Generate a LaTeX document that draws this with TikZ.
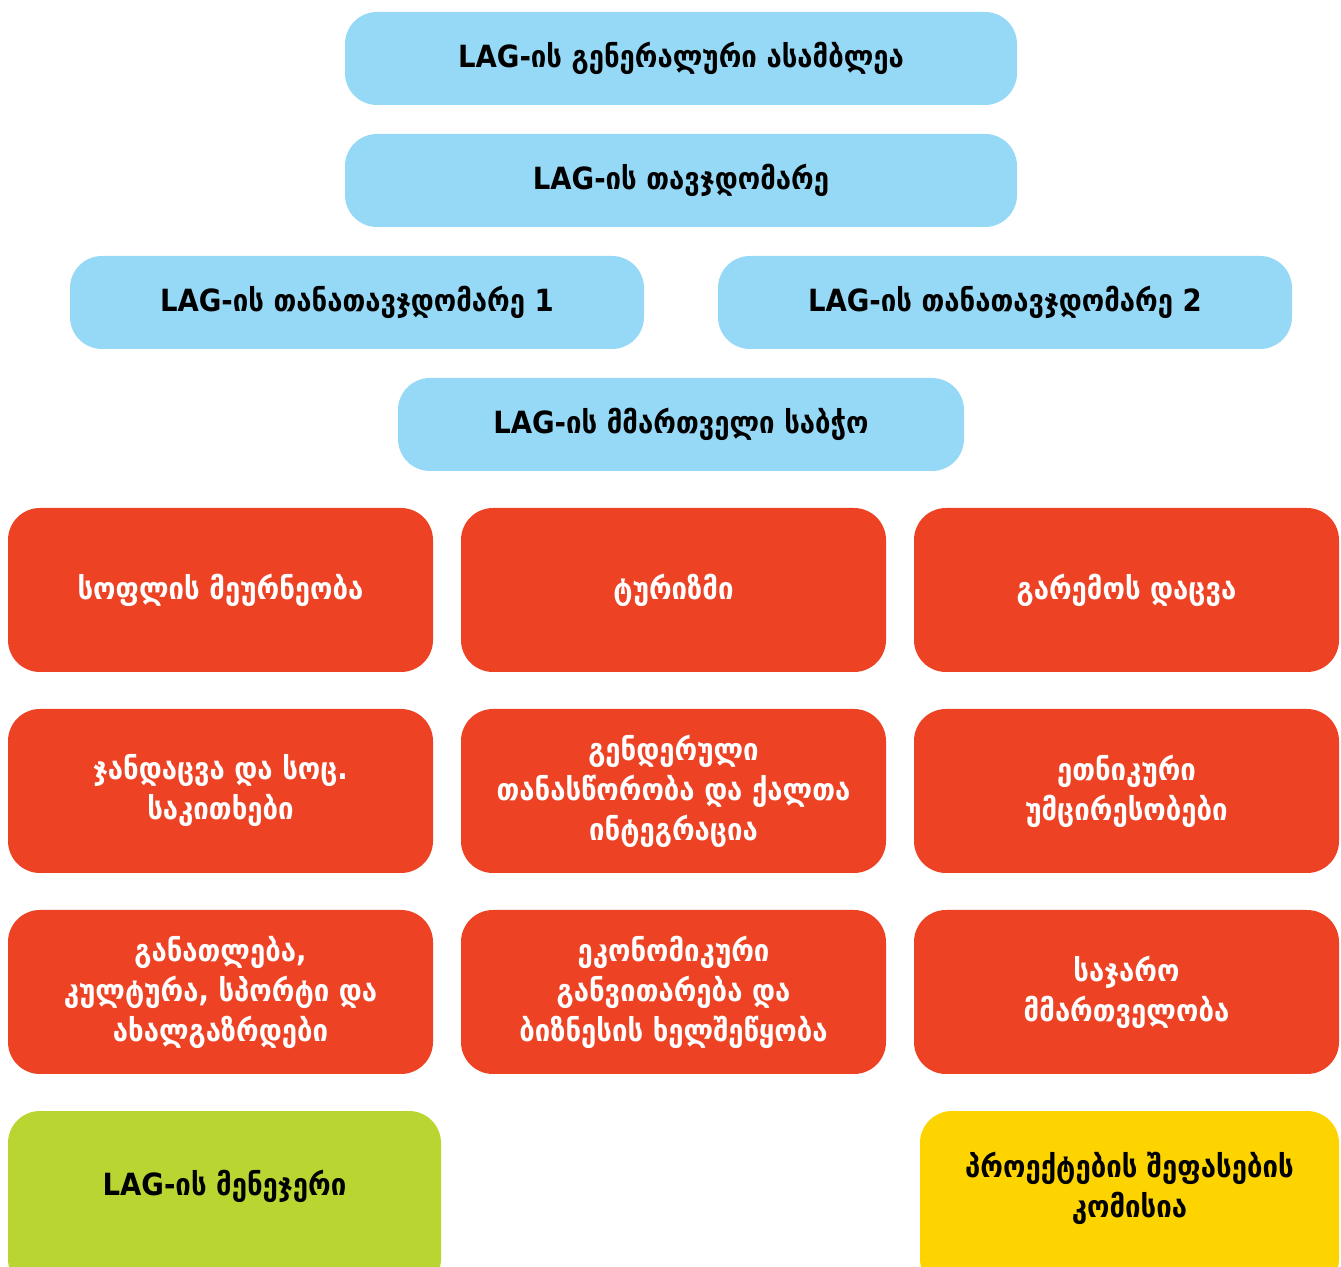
\documentclass[tikz,border=0pt]{standalone}
\usepackage{fontspec}
\setmainfont{DejaVu Sans Condensed}[BoldFont={DejaVu Sans Condensed Bold}]
\definecolor{lagblue}{HTML}{96D9F6}
\definecolor{lagred}{HTML}{EE4225}
\definecolor{laggreen}{HTML}{B9D531}
\definecolor{lagyellow}{HTML}{FDD400}

\begin{document}
\begin{tikzpicture}[x=0.5pt,y=-0.5pt,
	box/.style={rounded corners=16pt,inner sep=0pt,align=center,font=\bfseries\fontsize{15.3}{20}\selectfont},
	board/.style={box,fill=lagblue,text=black,minimum height=46.5pt},
	theme/.style={box,fill=lagred,text=white,minimum width=212.5pt,minimum height=82pt},
	staff/.style={box,minimum height=90pt},
	caption/.style={box,text=black}]
	\useasboundingbox (0,0) rectangle (1341,1267);
	\node[board,minimum width=336pt] (assembly) at (681,58.5) {LAG-ის გენერალური ასამბლეა};
	\node[board,minimum width=336pt] (chair) at (681,180.5) {LAG-ის თავჯდომარე};
	\node[board,minimum width=287pt] (cochair1) at (357,302.5) {LAG-ის თანათავჯდომარე 1};
	\node[board,minimum width=287pt] (cochair2) at (1005,302.5) {LAG-ის თანათავჯდომარე 2};
	\node[board,minimum width=283pt] (council) at (681,424.5) {LAG-ის მმართველი საბჭო};
	\node[theme] (agriculture) at (220.5,590) {სოფლის მეურნეობა};
	\node[theme] (tourism) at (673.5,590) {ტურიზმი};
	\node[theme] (environment) at (1126.5,590) {გარემოს დაცვა};
	\node[theme] (health) at (220.5,791) {ჯანდაცვა და სოც.\\საკითხები};
	\node[theme] (gender) at (673.5,791) {გენდერული\\თანასწორობა და ქალთა\\ინტეგრაცია};
	\node[theme] (minorities) at (1126.5,791) {ეთნიკური\\უმცირესობები};
	\node[theme] (education) at (220.5,992) {განათლება,\\კულტურა, სპორტი და\\ახალგაზრდები};
	\node[theme] (economy) at (673.5,992) {ეკონომიკური\\განვითარება და\\ბიზნესის ხელშეწყობა};
	\node[theme] (governance) at (1126.5,992) {საჯარო\\მმართველობა};
	\node[staff,fill=laggreen,minimum width=216.5pt] (manager) at (224.5,1201) {};
	\node[caption] (managerText) at (224.5,1186) {LAG-ის მენეჯერი};
	\node[staff,fill=lagyellow,minimum width=209.5pt] (commission) at (1129.5,1201) {};
	\node[caption] (commissionText) at (1129.5,1188) {პროექტების შეფასების\\კომისია};
\end{tikzpicture}
\end{document}
